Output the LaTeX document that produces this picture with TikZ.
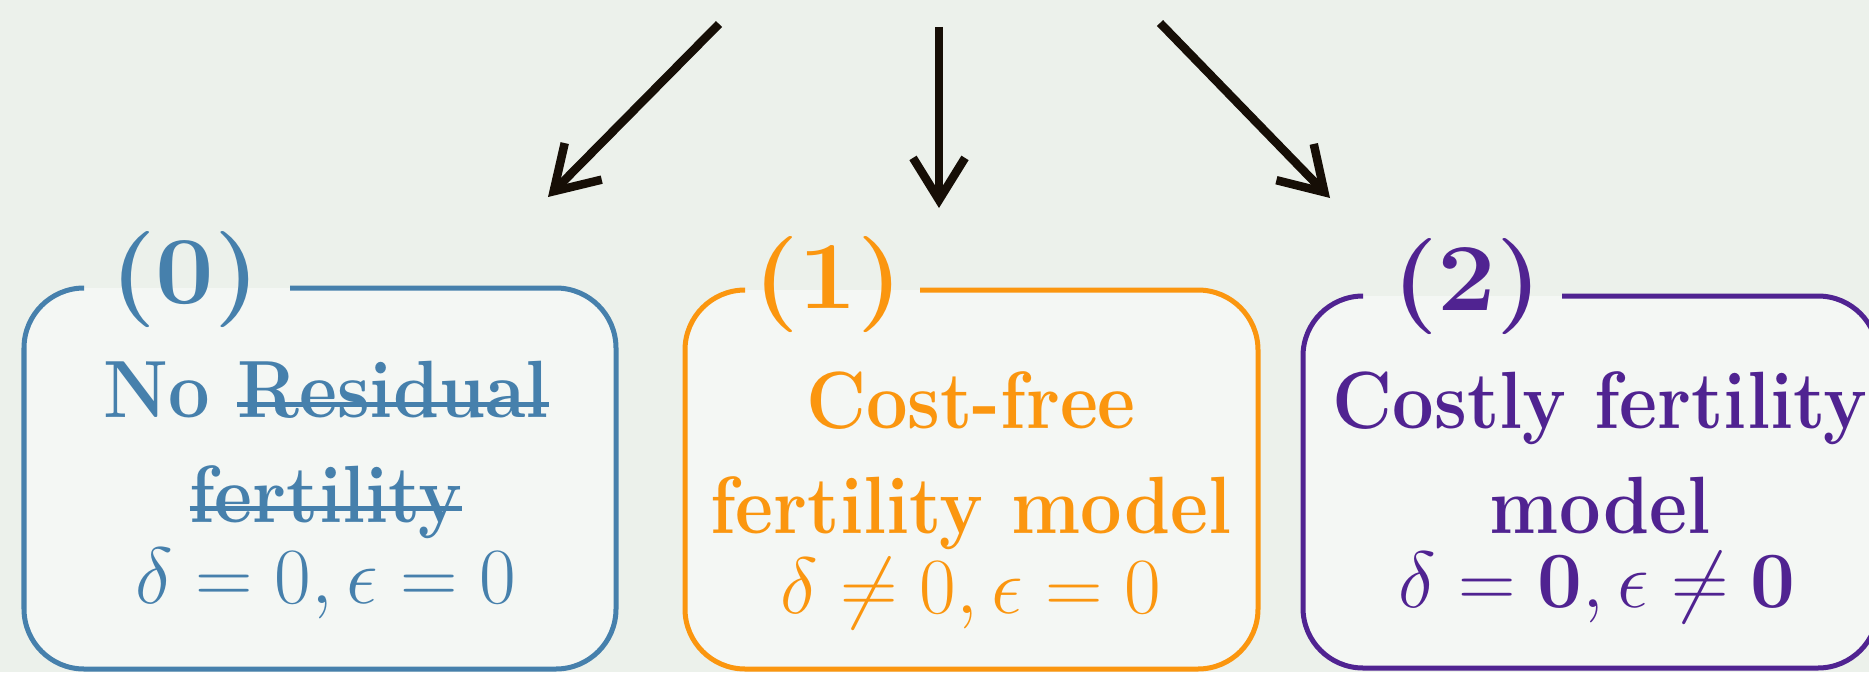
\documentclass[tikz,border=0pt]{standalone}
\usetikzlibrary{arrows.meta}

\definecolor{modelblue}{RGB}{70,128,172}
\definecolor{modelorange}{RGB}{251,150,15}
\definecolor{modelpurple}{RGB}{80,35,145}
\definecolor{arrowdark}{RGB}{22,14,6}
\definecolor{backpale}{RGB}{236,241,235}

\newsavebox{\strikebox}
\newcommand{\strikeout}[1]{\sbox{\strikebox}{#1}\rlap{\rule[.3ex]{\wd\strikebox}{1.4pt}}\usebox{\strikebox}}

\begin{document}
\begin{tikzpicture}[x=0.01cm, y=0.01cm, >={Straight Barb[length=4.2mm, width=5.2mm]},
        frame/.style={draw=#1, line width=0.5mm, rounded corners=0.6cm, fill=white, fill opacity=0.45},
        flow/.style={->, arrowdark, line width=0.85mm},
        num/.style={inner sep=0, anchor=base, xscale=1.14, yscale=1.05, font=\fontsize{26}{30}\selectfont\bfseries},
        title/.style={inner sep=0, anchor=base, align=center, yscale=1.1, font=\fontsize{21}{26.9}\selectfont\bfseries},
        eq/.style={inner sep=0, anchor=base, scale=1.093, font=\fontsize{20.74}{25}\selectfont}]
        \fill[backpale] (0,0) rectangle (1869,672);
        \useasboundingbox (0,0) rectangle (1869,672);
        \clip (0,0) rectangle (1869,672);

        % the three frames, open where the number sits
        \path[frame=modelblue] (290,384) -- (616,384) -- (616,3) -- (24,3) -- (24,384) -- (84,384);
        \path[frame=modelorange] (920,382) -- (1258,382) -- (1258,3) -- (685,3) -- (685,382) -- (745,382);
        \path[frame=modelpurple] (1562,376) -- (1878,376) -- (1878,4) -- (1303,4) -- (1303,376) -- (1363,376);

        \node[num, modelblue] (lab0) at (185,369) {(0)};
        \node[num, modelorange] (lab1) at (828,364) {(1)};
        \node[num, modelpurple] (lab2) at (1467,362) {(2)};

        % base of a two-line node is its last line
        \node[title, modelblue] (title0) at (326,150) {No \strikeout{Residual}\\\strikeout{fertility}};
        \node[title, modelorange] (title1) at (971,139) {Cost-free\\fertility model};
        \node[title, modelpurple] (title2) at (1600,139) {Costly fertility\\model};

        \node[eq, modelblue] (cond0) at (326,69) {$\delta = 0, \epsilon = 0$};
        \node[eq, modelorange] (cond1) at (971,59) {$\delta \neq 0, \epsilon = 0$};
        \node[eq, modelpurple] (cond2) at (1597,65) {$\delta = \mathbf{0}, \epsilon \neq \mathbf{0}$};

        \coordinate (from0) at (719,648);
        \coordinate (to0) at (548,475);
        \coordinate (from1) at (939,645);
        \coordinate (to1) at (939,464);
        \coordinate (from2) at (1160,649);
        \coordinate (to2) at (1330,474);
        \draw[flow] (from0) -- (to0);
        \draw[flow] (from1) -- (to1);
        \draw[flow] (from2) -- (to2);
    \end{tikzpicture}
\end{document}
